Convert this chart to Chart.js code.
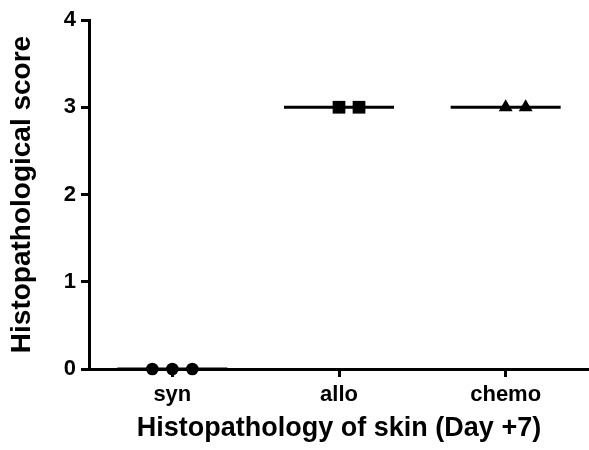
<!DOCTYPE html>
<html>
<head>
<meta charset="utf-8">
<script src="https://cdn.jsdelivr.net/npm/chart.js@4"></script>
<style>
  html, body { margin: 0; padding: 0; background: #fff; }
  canvas { display: block; }
</style>
</head>
<body>
<canvas id="myChart" width="589" height="450"></canvas>
<script>
// groups on the x axis
var categories = ['syn', 'allo', 'chemo'];
// individual scores per group
var synScores = [0, 0, 0];
var alloScores = [3, 3];
var chemoScores = [3, 3];
var yTicks = [0, 1, 2, 3, 4];

var groups = [synScores, alloScores, chemoScores];
var markers = ['circle', 'rect', 'triangle'];
var markerSize = [6.3, 9, 8];

function median(arr) {
    var s = arr.slice().sort(function (a, b) { return a - b; });
    var m = Math.floor(s.length / 2);
    return s.length % 2 ? s[m] : (s[m - 1] + s[m]) / 2;
}

var FONT = '"Liberation Sans", Arial, sans-serif';
var spread = 0.12;   // horizontal scatter between points, in category units
var halfLine = 0.33; // half width of the median bar

var datasets = [];
groups.forEach(function (vals, i) {
    var n = vals.length;
    datasets.push({
        type: 'scatter',
        data: vals.map(function (v, k) {
            return { x: i + (k - Math.floor((n - 1) / 2)) * spread, y: v };
        }),
        pointStyle: markers[i],
        pointRadius: markerSize[i],
        pointBackgroundColor: '#000',
        pointBorderColor: '#000',
        pointBorderWidth: 0,
        clip: false,
        order: 0
    });
    var m = median(vals);
    datasets.push({
        type: 'line',
        data: [{ x: i - halfLine, y: m }, { x: i + halfLine, y: m }],
        borderColor: '#000',
        borderWidth: 3,
        pointRadius: 0,
        fill: false,
        clip: false,
        order: 1
    });
});

var ctx = document.getElementById('myChart').getContext('2d');
var chart = new Chart(ctx, {
    type: 'scatter',
    data: { datasets: datasets },
    options: {
        responsive: false,
        animation: false,
        layout: { autoPadding: false, padding: { top: 20, right: 0, left: 0, bottom: 0 } },
        plugins: {
            legend: { display: false },
            tooltip: { enabled: false }
        },
        scales: {
            x: {
                type: 'linear',
                min: -0.5,
                max: categories.length - 0.5,
                afterBuildTicks: function (scale) {
                    scale.ticks = categories.map(function (c, i) { return { value: i }; });
                },
                afterFit: function (scale) {
                    scale.height = 81;
                    scale.paddingLeft = 0;
                    scale.paddingRight = 0;
                },
                ticks: {
                    color: '#000',
                    font: { family: FONT, size: 22, weight: 'bold' },
                    padding: 5,
                    maxRotation: 0,
                    callback: function (v) { return categories[v]; }
                },
                grid: {
                    drawOnChartArea: false,
                    drawTicks: true,
                    tickLength: 8,
                    tickWidth: 3,
                    tickColor: '#000'
                },
                border: { display: true, color: '#000', width: 3 },
                title: {
                    display: true,
                    text: 'Histopathology of skin (Day +7)',
                    color: '#000',
                    font: { family: FONT, size: 27, weight: 'bold', lineHeight: 1 },
                    padding: { top: 0, bottom: 8 }
                }
            },
            y: {
                min: 0,
                max: 4,
                afterBuildTicks: function (scale) {
                    scale.ticks = yTicks.map(function (v) { return { value: v }; });
                },
                afterFit: function (scale) { scale.width = 89; },
                ticks: {
                    color: '#000',
                    font: { family: FONT, size: 22, weight: 'bold' },
                    padding: 5
                },
                grid: {
                    drawOnChartArea: false,
                    drawTicks: true,
                    tickLength: 8,
                    tickWidth: 3,
                    tickColor: '#000'
                },
                border: { display: true, color: '#000', width: 3 },
                title: {
                    display: true,
                    text: 'Histopathological score',
                    color: '#000',
                    font: { family: FONT, size: 28, weight: 'bold', lineHeight: 1 },
                    padding: { top: 8, bottom: 0 }
                }
            }
        }
    }
});
</script>
</body>
</html>
